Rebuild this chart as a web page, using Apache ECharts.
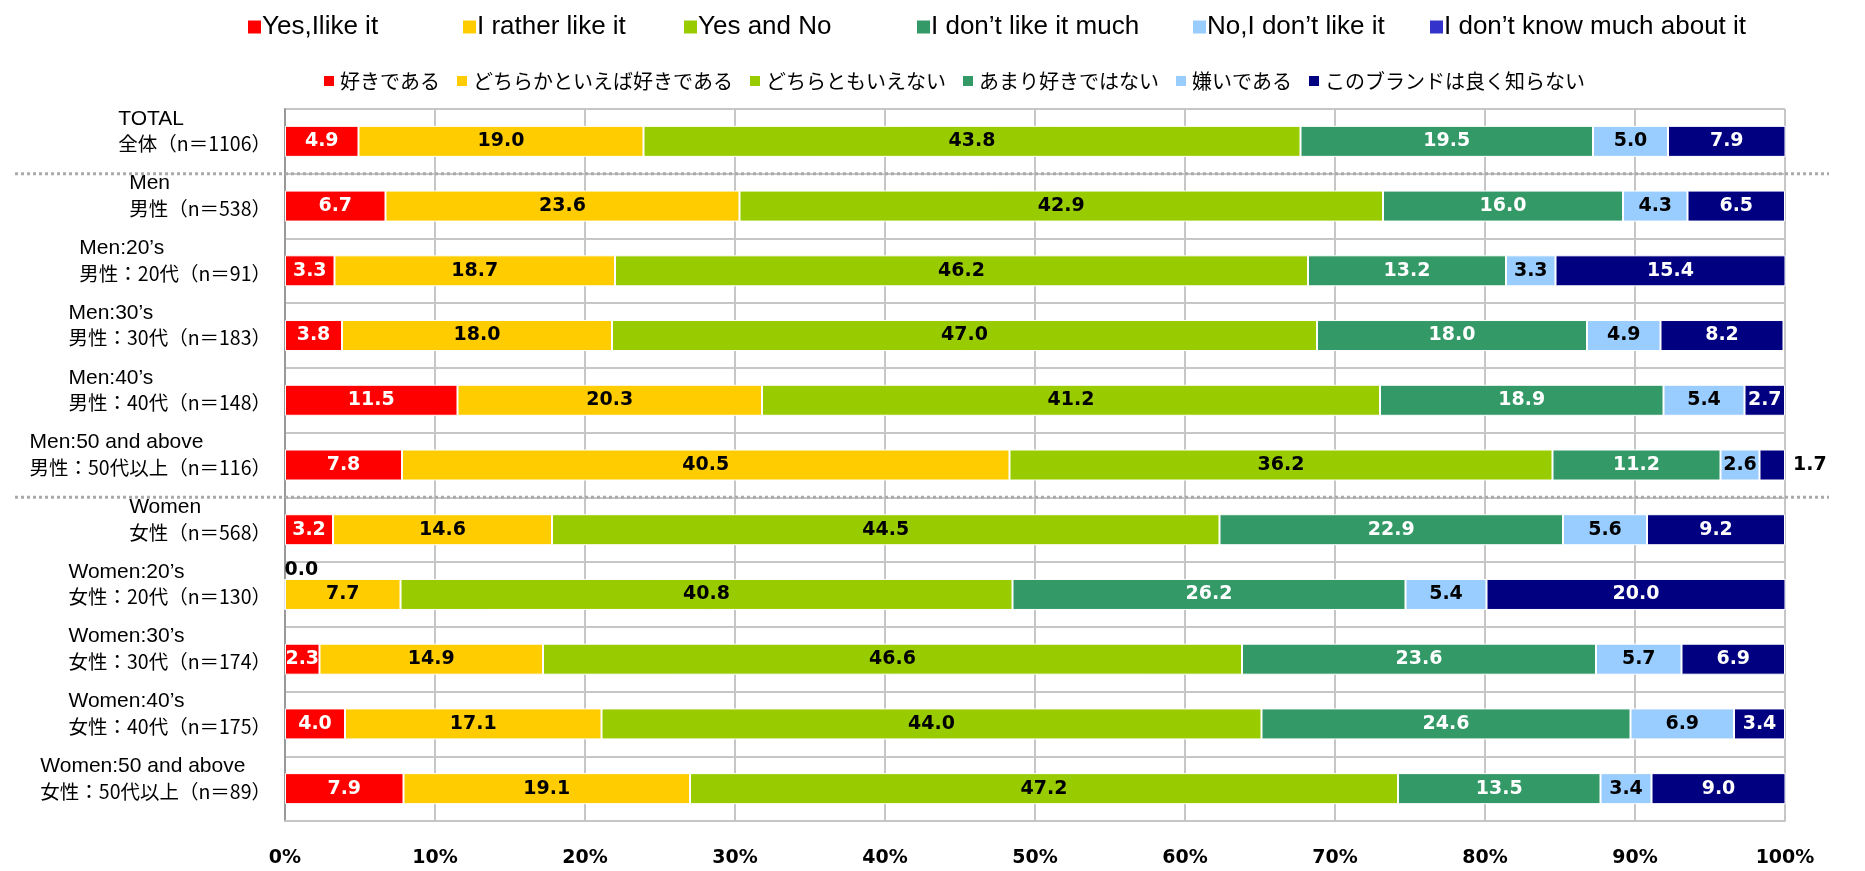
<!DOCTYPE html>
<html>
<head>
<meta charset="utf-8">
<script src="https://cdn.jsdelivr.net/npm/echarts@6/dist/echarts.min.js"></script>
<style>
html,body{margin:0;padding:0;background:#fff;}
#chart{width:1865px;height:871px;}
</style>
</head>
<body>
<div id="chart"></div>
<script>
// ---------------- DATA ----------------
const categoriesEn = ['TOTAL','Men','Men:20\u2019s','Men:30\u2019s','Men:40\u2019s','Men:50 and above','Women','Women:20\u2019s','Women:30\u2019s','Women:40\u2019s','Women:50 and above'];
const categoriesJa = ['全体（n＝1106）','男性（n＝538）','男性：20代（n＝91）','男性：30代（n＝183）','男性：40代（n＝148）','男性：50代以上（n＝116）','女性（n＝568）','女性：20代（n＝130）','女性：30代（n＝174）','女性：40代（n＝175）','女性：50代以上（n＝89）'];
const seriesNamesJa = ['好きである','どちらかといえば好きである','どちらともいえない','あまり好きではない','嫌いである','このブランドは良く知らない'];
const seriesNamesEn = ['Yes,Ilike it','I rather like it','Yes and No','I don\u2019t like it much','No,I don\u2019t like it','I don\u2019t know much about it'];

const likeIt        = [4.9, 6.7, 3.3, 3.8, 11.5, 7.8, 3.2, 0.0, 2.3, 4.0, 7.9];
const ratherLike    = [19.0, 23.6, 18.7, 18.0, 20.3, 40.5, 14.6, 7.7, 14.9, 17.1, 19.1];
const yesAndNo      = [43.8, 42.9, 46.2, 47.0, 41.2, 36.2, 44.5, 40.8, 46.6, 44.0, 47.2];
const notMuch       = [19.5, 16.0, 13.2, 18.0, 18.9, 11.2, 22.9, 26.2, 23.6, 24.6, 13.5];
const dislike       = [5.0, 4.3, 3.3, 4.9, 5.4, 2.6, 5.6, 5.4, 5.7, 6.9, 3.4];
const dontKnow      = [7.9, 6.5, 15.4, 8.2, 2.7, 1.7, 9.2, 20.0, 6.9, 3.4, 9.0];

const xTickValues = [0,10,20,30,40,50,60,70,80,90,100];

// ---------------- STYLE ----------------
const seriesValues = [likeIt, ratherLike, yesAndNo, notMuch, dislike, dontKnow];
const colorsJa = ['#FF0000','#FFCC00','#99CC00','#339966','#99CCFF','#000080'];
const colorsEn = ['#FF0000','#FFCC00','#99CC00','#339966','#99CCFF','#3333CC'];
const labelColors = ['#fff','#000','#000','#fff','#000','#fff'];
const enLegendLeft = [243, 458, 679, 912, 1188, 1425];

const labelFont = 'DejaVu Sans';
const enFont = '"Liberation Sans", Arial, sans-serif';
const jaFont = '"Noto Sans CJK JP", sans-serif';

const chart = echarts.init(document.getElementById('chart'), null, {renderer:'canvas'});

const realSeries = seriesValues.map((vals, si) => ({
  name: seriesNamesJa[si],
  type: 'bar',
  stack: 'total',
  barWidth: 31,
  itemStyle: { color: colorsJa[si], borderColor: '#fff', borderWidth: 1 },
  label: {
    show: true,
    position: 'inside',
    color: labelColors[si],
    fontFamily: labelFont,
    fontWeight: 'bold',
    fontSize: 19,
    formatter: p => Number(p.value).toFixed(1)
  },
  data: vals.map(v => {
    if (v === 0) {
      return { value: v, label: { position: [0, -8], align: 'left', verticalAlign: 'middle', color: '#000' } };
    }
    if (v < 2) {
      return { value: v, label: { position: 'right', distance: 8, color: '#000' } };
    }
    return v;
  }),
  z: 3
}));

const dummySeries = seriesNamesEn.map((n, si) => ({
  name: n,
  type: 'bar',
  stack: 'total',
  barWidth: 31,
  itemStyle: { color: colorsEn[si] },
  data: []
}));

const legends = seriesNamesEn.map((n, i) => ({
  data: [n],
  left: enLegendLeft[i],
  top: 9,
  icon: 'rect',
  itemWidth: 13,
  itemHeight: 13,
  selectedMode: false,
  textStyle: { fontFamily: enFont, fontSize: 26, color: '#000', padding: [0,0,0,-4] }
}));
legends.push({
  data: seriesNamesJa,
  left: 317,
  top: 66,
  icon: 'rect',
  itemWidth: 12,
  itemHeight: 12,
  itemGap: 15,
  selectedMode: false,
  textStyle: { fontFamily: jaFont, fontSize: 20, color: '#000' }
});

const option = {
  animation: false,
  backgroundColor: '#fff',
  legend: legends,
  grid: { left: 285, right: 80, top: 109, bottom: 50, containLabel: false },
  xAxis: {
    type: 'value',
    min: 0,
    max: 100,
    interval: 10,
    axisLine: { show: true, lineStyle: { color: '#c6c6c6', width: 2 } },
    axisTick: { show: false },
    splitLine: { show: true, lineStyle: { color: '#c6c6c6', width: 2 } },
    axisLabel: {
      margin: 28,
      color: '#000',
      fontFamily: labelFont,
      fontWeight: 'bold',
      fontSize: 19,
      formatter: v => xTickValues.includes(v) ? v + '%' : ''
    }
  },
  yAxis: {
    type: 'category',
    inverse: true,
    data: categoriesEn.map((e, i) => e + '\n' + categoriesJa[i]),
    axisLine: { show: true, lineStyle: { color: '#999', width: 2 } },
    axisTick: { show: false },
    splitLine: { show: true, lineStyle: { color: '#c6c6c6', width: 2 } },
    axisLabel: {
      margin: 14,
      align: 'right',
      padding: [0, 0, 20, 0],
      formatter: v => {
        const parts = v.split('\n');
        return '{e|' + parts[0] + '}\n{j|' + parts[1] + '}';
      },
      rich: {
        e: { fontFamily: enFont, fontSize: 21, color: '#000', align: 'left', lineHeight: 25 },
        j: { fontFamily: jaFont, fontSize: 19.5, color: '#000', align: 'left', lineHeight: 25 }
      }
    }
  },
  series: realSeries.concat(dummySeries)
};

chart.setOption(option);

// dotted group separators (between TOTAL/Men and Men/Women groups)
function sepY(i) {
  const a = chart.convertToPixel({ yAxisIndex: 0 }, i);
  const b = chart.convertToPixel({ yAxisIndex: 0 }, i + 1);
  return (a + b) / 2;
}
const sepAfter = [0, 5];
chart.setOption({
  graphic: sepAfter.map(i => ({
    type: 'line',
    z: 10,
    shape: { x1: 15, y1: sepY(i), x2: 1829, y2: sepY(i) },
    style: { stroke: '#aaaaaa', lineWidth: 3, lineDash: [3, 3] }
  }))
});
</script>
</body>
</html>
